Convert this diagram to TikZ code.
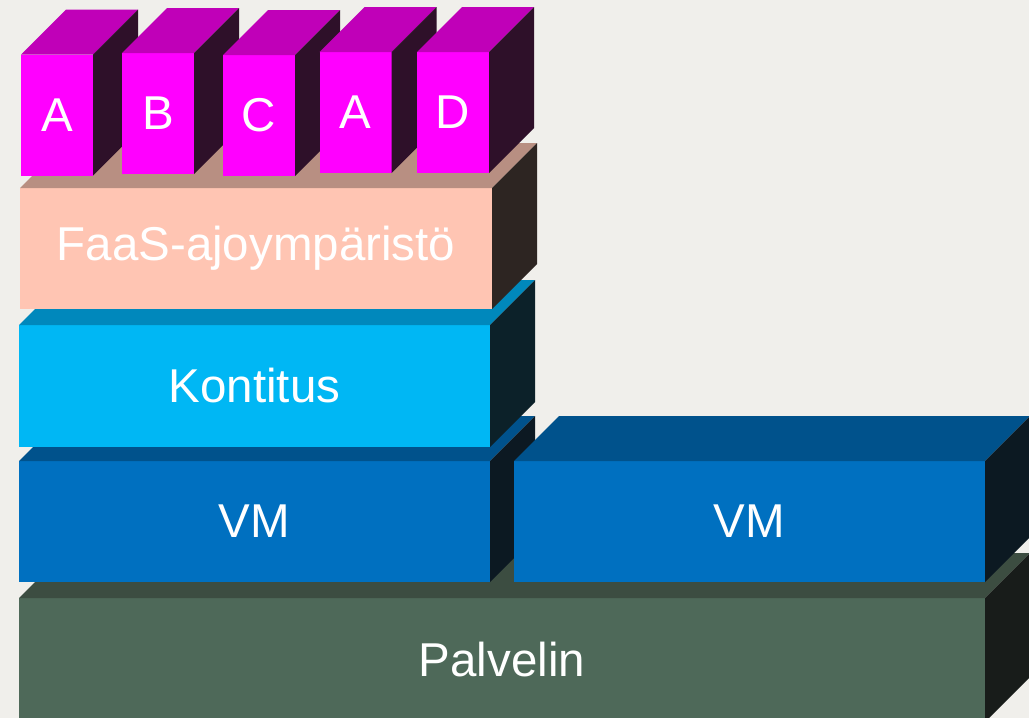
\documentclass[tikz,border=0pt]{standalone}
\usepackage{fontspec}
\setmainfont{Liberation Sans}
\usepackage{tikz}

\definecolor{tausta}{RGB}{240,239,235}
\definecolor{funkEtu}{RGB}{255,0,255}
\definecolor{funkYla}{RGB}{192,0,184}
\definecolor{funkSivu}{RGB}{46,16,41}
\definecolor{faasEtu}{RGB}{255,197,179}
\definecolor{faasYla}{RGB}{184,143,130}
\definecolor{faasSivu}{RGB}{45,37,34}
\definecolor{konttiEtu}{RGB}{0,183,244}
\definecolor{konttiYla}{RGB}{0,136,188}
\definecolor{konttiSivu}{RGB}{12,33,41}
\definecolor{vmEtu}{RGB}{0,112,192}
\definecolor{vmYla}{RGB}{0,82,140}
\definecolor{vmSivu}{RGB}{12,25,34}
\definecolor{palvEtu}{RGB}{78,105,89}
\definecolor{palvYla}{RGB}{60,77,65}
\definecolor{palvSivu}{RGB}{24,28,26}

% top and right faces of a box node: #1 node, #2 top colour, #3 side colour
\newcommand{\laatikko}[3]{%
	\fill[#2] (#1.north west) -- ++(45,-45) -- ([shift={(45,-45)}]#1.north east) -- (#1.north east) -- cycle;
	\fill[#3] (#1.north east) -- ++(45,-45) -- ([shift={(45,-45)}]#1.south east) -- (#1.south east) -- cycle;
}

\begin{document}
\begin{tikzpicture}[x=1pt, y=-1pt,
	kerros/.style={rectangle, inner sep=0pt, outer sep=0pt, text=white,
		font=\fontsize{47.5}{56}\selectfont},
	funktio/.style={kerros, fill=funkEtu, minimum width=72pt, minimum height=121pt}]
	\fill[tausta] (0,0) rectangle (1029,718);
	\clip (0,0) rectangle (1029,718);
	
	\node[kerros, fill=palvEtu, minimum width=966pt, minimum height=124pt] (palvelin) at (502,660) {Palvelin};
	\laatikko{palvelin}{palvYla}{palvSivu}
	
	\node[kerros, fill=vmEtu, minimum width=471pt, minimum height=121pt] (vm1) at (254.5,521.5) {VM};
	\laatikko{vm1}{vmYla}{vmSivu}
	\node[kerros, fill=vmEtu, minimum width=471pt, minimum height=121pt] (vm2) at (749.5,521.5) {VM};
	\laatikko{vm2}{vmYla}{vmSivu}
	
	\node[kerros, fill=konttiEtu, minimum width=471pt, minimum height=122pt] (kontitus) at (254.5,386) {Kontitus};
	\laatikko{kontitus}{konttiYla}{konttiSivu}
	
	\node[kerros, fill=faasEtu, minimum width=472pt, minimum height=121pt] (faas) at (256,248.5) {FaaS-ajoympäristö};
	\laatikko{faas}{faasYla}{faasSivu}
	
	% functions on top of the runtime
	\foreach \x/\y/\nimi/\teksti in {57/115/fa/A, 158/113.5/fb/B, 259/115.5/fc/C, 355.5/112.5/fa2/A, 453/112.5/fd/D} {
		\node[funktio] (\nimi) at (\x,\y) {\teksti};
		\laatikko{\nimi}{funkYla}{funkSivu}
	}
\end{tikzpicture}
\end{document}
